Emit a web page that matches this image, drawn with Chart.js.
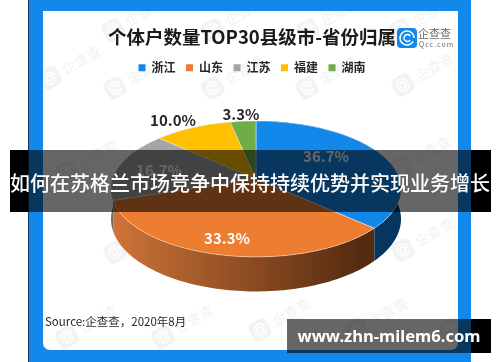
<!DOCTYPE html>
<html>
<head>
<meta charset="utf-8">
<title>个体户数量TOP30县级市-省份归属</title>
<script src="https://cdn.jsdelivr.net/npm/chart.js@4"></script>
<style>
    html, body { margin: 0; padding: 0; background: #fff; width: 500px; height: 362px; overflow: hidden; }
    div, canvas { position: absolute; }
    #frame { left: 28px; top: 0; width: 442px; height: 362px; background: #1289ea; border-left: 1px solid #1d3a55; }
    #inner { left: 43px; top: 11px; width: 415px; height: 339px; background: #fff; border-radius: 0 0 7px 7px; }
    #chart { left: 0; top: 0; }
    .black { background: #000; }
    .shade { background: rgba(0, 0, 0, 0.6); }
    .caption { color: #fff; font-family: "Noto Sans CJK SC"; white-space: nowrap; text-align: center; }
    #bandText { left: 0; top: 150px; width: 500px; height: 62px; line-height: 66px; font-size: 20px; font-weight: 500; }
    #urlText { left: 287px; top: 319px; width: 204px; height: 34px; line-height: 34px; font-size: 16.6px; font-weight: 700; font-family: "Noto Sans"; }
</style>
</head>
<body>
<div id="frame"></div>
<div id="inner"></div>
<canvas id="chart" width="500" height="362"></canvas>
<div class="black" style="left:10px;top:150px;width:18px;height:62px"></div>
<div class="shade" style="left:28px;top:150px;width:443px;height:62px"></div>
<div class="black" style="left:471px;top:150px;width:20px;height:62px"></div>
<div class="caption" id="bandText">如何在苏格兰市场竞争中保持持续优势并实现业务增长</div>
<div class="shade" style="left:287px;top:319px;width:184px;height:34px"></div>
<div class="black" style="left:471px;top:319px;width:20px;height:34px"></div>
<div class="caption" id="urlText">www.zhn-milem6.com</div>
<script>
var provinces = ["浙江", "山东", "江苏", "福建", "湖南"];
var shares = [36.7, 33.3, 16.7, 10.0, 3.3];
var topColors = ["#1289ea", "#ed7d31", "#a5a5a5", "#ffc000", "#70ad47"];
var labelColors = ["#ffffff", "#ffffff", "#ffffff", "#262626", "#262626"];
var labelSpots = [[326, 156], [227, 238], [159, 170], [173, 120], [241, 114]];
var wallStops = [
    ["#06365f", "#06365f"],
    ["#cf7437", "#552b10"],
    ["#6e6e6e", "#6e6e6e"],
    ["#aa8000", "#aa8000"],
    ["#4a7330", "#4a7330"]
];
var watermarkSpots = [[113, 30], [213, 30], [308, 30], [400, 30], [50, 78], [115, 88], [213, 88], [307, 88], [403, 85],
    [67, 172], [400, 168], [115, 252], [403, 250], [67, 337], [163, 337], [260, 330], [357, 330], [450, 330]];

var cjkFont = '"Noto Sans CJK SC"';
var pieShiftX = 4; // title and legend sit a little left of the pie

// the pie is tilted away from the viewer, so points go through a small perspective
function project(arc, angle, fraction, drop) {
    var r = arc.outerRadius;
    var u = fraction * Math.cos(angle);
    var v = fraction * Math.sin(angle);
    var w = 1 - 0.149 * v;
    return {
        x: arc.x + pieShiftX + 1.507 * r * u / w,
        y: arc.y + (0.698 * r * v + drop * 0.309 * r) / w
    };
}

function traceEdge(ctx, arc, from, to, drop) {
    var steps = Math.max(4, Math.ceil(Math.abs(to - from) * 40));
    for (var s = 0; s <= steps; s++) {
        var p = project(arc, from + (to - from) * s / steps, 1, drop);
        ctx.lineTo(p.x, p.y);
    }
}

function drawWatermarks(ctx) {
    ctx.save();
    ctx.beginPath();
    ctx.rect(43, 11, 415, 339);
    ctx.clip();
    watermarkSpots.forEach(function (spot) {
        ctx.save();
        ctx.translate(spot[0], spot[1]);
        ctx.rotate(-Math.PI / 6);
        ctx.fillStyle = "#f3f3f3";
        ctx.beginPath();
        ctx.roundRect(-10, -10, 20, 20, 5);
        ctx.fill();
        ctx.strokeStyle = "#ffffff";
        ctx.lineWidth = 1.5;
        ctx.beginPath();
        ctx.arc(0, 0, 6, 0.4, Math.PI * 2);
        ctx.moveTo(3, 0);
        ctx.arc(0, 0, 3, 0, Math.PI * 2);
        ctx.stroke();
        ctx.fillStyle = "#f1f1f1";
        ctx.font = "14px " + cjkFont;
        ctx.textBaseline = "middle";
        ctx.fillText("企查查", 15, 0);
        ctx.restore();
    });
    ctx.restore();
}

function drawBrand(ctx) {
    ctx.save();
    ctx.fillStyle = "#1289ea";
    ctx.beginPath();
    ctx.roundRect(397, 28, 20, 20, 4);
    ctx.fill();
    ctx.strokeStyle = "#ffffff";
    ctx.lineWidth = 1.5;
    ctx.beginPath();
    ctx.arc(407, 38, 7, 0.5, Math.PI * 2);
    ctx.stroke();
    ctx.beginPath();
    ctx.arc(407.5, 38, 3.5, 0.7, Math.PI * 1.8);
    ctx.stroke();
    ctx.fillStyle = "#666666";
    ctx.textBaseline = "middle";
    ctx.font = "11px " + cjkFont;
    ctx.fillText("企查查", 418, 34);
    ctx.font = "7px " + cjkFont;
    ctx.letterSpacing = "1px";
    ctx.fillText("Qcc.com", 419, 44.5);
    ctx.letterSpacing = "0px";
    ctx.restore();
}

var tiltedPie = {
    id: "tiltedPie",
    beforeDraw: function (chart) {
        drawWatermarks(chart.ctx);
    },
    beforeDatasetDraw: function (chart, args) {
        var ctx = chart.ctx;
        var arcs = args.meta.data;
        ctx.save();
        ctx.lineJoin = "round";

        // side walls first, the top face covers the far ones
        arcs.forEach(function (arc, i) {
            var left = arc.x + pieShiftX - 1.507 * arc.outerRadius;
            var right = arc.x + pieShiftX + 1.1 * arc.outerRadius;
            var wall = ctx.createLinearGradient(left, 0, right, 0);
            wall.addColorStop(0, wallStops[i][0]);
            wall.addColorStop(1, wallStops[i][1]);
            ctx.beginPath();
            traceEdge(ctx, arc, arc.startAngle, arc.endAngle, 0);
            traceEdge(ctx, arc, arc.endAngle, arc.startAngle, 1);
            ctx.closePath();
            ctx.fillStyle = wall;
            ctx.fill();
            ctx.strokeStyle = "rgba(255,255,255,0.35)";
            ctx.lineWidth = 0.6;
            var edge = project(arc, arc.endAngle, 1, 0);
            var foot = project(arc, arc.endAngle, 1, 1);
            ctx.beginPath();
            ctx.moveTo(edge.x, edge.y);
            ctx.lineTo(foot.x, foot.y);
            ctx.stroke();
        });

        arcs.forEach(function (arc, i) {
            var hub = project(arc, 0, 0, 0);
            ctx.beginPath();
            ctx.moveTo(hub.x, hub.y);
            traceEdge(ctx, arc, arc.startAngle, arc.endAngle, 0);
            ctx.closePath();
            ctx.fillStyle = topColors[i];
            ctx.fill();
            ctx.strokeStyle = "rgba(255,255,255,0.55)";
            ctx.lineWidth = 0.8;
            ctx.stroke();
        });

        ctx.font = "bold 15px " + cjkFont;
        ctx.textAlign = "center";
        ctx.textBaseline = "middle";
        shares.forEach(function (share, i) {
            ctx.fillStyle = labelColors[i];
            ctx.fillText(share.toFixed(1) + "%", labelSpots[i][0], labelSpots[i][1]);
        });
        ctx.restore();
        return false;
    },
    afterDraw: function (chart) {
        var ctx = chart.ctx;
        drawBrand(ctx);
        ctx.save();
        ctx.fillStyle = "#262626";
        ctx.font = "11.5px " + cjkFont;
        ctx.textBaseline = "middle";
        ctx.fillText("Source:企查查，2020年8月", 45, 322);
        ctx.restore();
    }
};

var shareChart = new Chart("chart", {
    type: "pie",
    data: {
        labels: provinces,
        datasets: [{
            data: shares,
            backgroundColor: topColors,
            borderWidth: 0
        }]
    },
    options: {
        responsive: false,
        animation: false,
        layout: {
            padding: { top: 26, left: 4, bottom: 88 }
        },
        plugins: {
            tooltip: { enabled: false },
            title: {
                display: true,
                text: "个体户数量TOP30县级市-省份归属",
                color: "#1a1a1a",
                padding: { top: 0, bottom: 3 },
                font: { family: cjkFont, size: 18.5, weight: "bold" }
            },
            legend: {
                display: true,
                position: "top",
                labels: {
                    boxWidth: 7,
                    boxHeight: 7,
                    padding: 10.5,
                    color: "#262626",
                    font: { family: cjkFont, size: 12, weight: "bold" }
                }
            }
        }
    },
    plugins: [tiltedPie]
});
</script>
</body>
</html>
